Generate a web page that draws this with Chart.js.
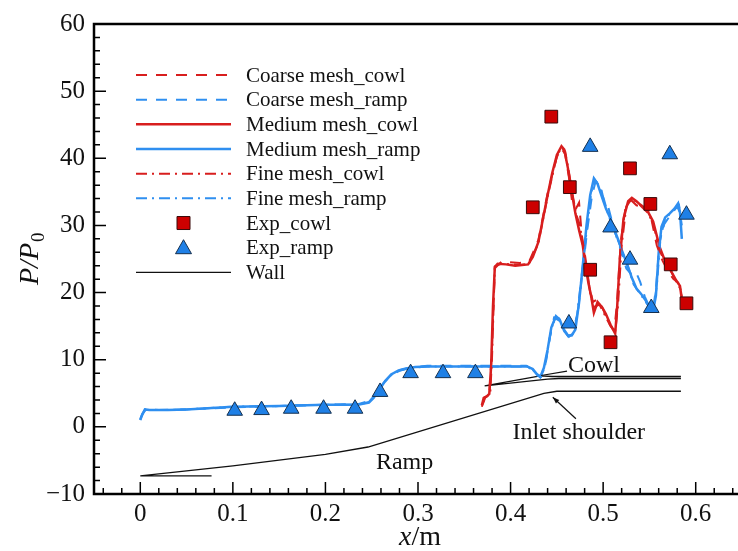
<!DOCTYPE html>
<html>
<head>
<meta charset="utf-8">
<script src="https://cdn.jsdelivr.net/npm/chart.js@4.4.1/dist/chart.umd.min.js"></script>
<style>
  html, body { margin: 0; padding: 0; background: #fff; overflow: hidden; }
  #wrap { width: 752px; height: 551px; }
</style>
</head>
<body>
<div id="wrap"><canvas id="pChart" width="752" height="551"></canvas></div>
<script>
// Axis ticks
const xTicks = [0, 0.1, 0.2, 0.3, 0.4, 0.5, 0.6];
const yTicks = [-10, 0, 10, 20, 30, 40, 50, 60];

// Medium mesh
const mediumCowlX = [0.369, 0.371, 0.374, 0.377, 0.379, 0.381, 0.383, 0.386, 0.395, 0.405, 0.419, 0.424, 0.43, 0.435, 0.44, 0.445, 0.45, 0.455, 0.458, 0.462, 0.466, 0.47, 0.474, 0.478, 0.481, 0.484, 0.487, 0.49, 0.494, 0.499, 0.503, 0.508, 0.513, 0.515, 0.518, 0.522, 0.527, 0.531, 0.536, 0.54, 0.547, 0.554, 0.561, 0.566, 0.57, 0.575, 0.579, 0.583, 0.585];
const mediumCowlY = [3.2, 4.3, 4.5, 4.9, 9.0, 18.0, 23.8, 24.3, 24.2, 24.0, 24.2, 25.3, 27.5, 31.0, 34.5, 37.8, 40.5, 41.8, 41.3, 38.5, 35.0, 31.8, 29.3, 27.0, 24.0, 21.5, 19.5, 17.0, 18.6, 17.8, 16.8, 15.2, 13.9, 17.5, 25.0, 31.0, 33.6, 34.1, 33.6, 33.1, 32.4, 30.6, 26.8, 25.0, 24.0, 22.8, 21.8, 21.0, 19.0];
const mediumRampX = [0, 0.002, 0.005, 0.01, 0.03, 0.05, 0.1, 0.15, 0.2, 0.235, 0.247, 0.252, 0.257, 0.264, 0.271, 0.279, 0.287, 0.297, 0.31, 0.35, 0.39, 0.418, 0.424, 0.428, 0.432, 0.436, 0.44, 0.444, 0.449, 0.453, 0.457, 0.462, 0.466, 0.47, 0.474, 0.478, 0.482, 0.486, 0.49, 0.494, 0.498, 0.503, 0.508, 0.512, 0.517, 0.521, 0.526, 0.531, 0.536, 0.541, 0.546, 0.551, 0.554, 0.557, 0.56, 0.563, 0.567, 0.572, 0.577, 0.581, 0.583, 0.585];
const mediumRampY = [1.0, 1.8, 2.6, 2.5, 2.5, 2.6, 3.0, 3.1, 3.3, 3.3, 3.6, 4.3, 5.3, 6.7, 7.8, 8.4, 8.7, 8.9, 9.0, 9.0, 9.0, 9.0, 8.6, 7.9, 7.4, 8.8, 11.5, 14.8, 16.5, 16.0, 14.6, 13.6, 13.6, 14.5, 18.5, 24.0, 30.0, 34.5, 37.0, 36.2, 34.5, 32.5, 31.0, 29.4, 27.6, 26.0, 24.2, 22.2, 20.6, 19.8, 18.8, 17.6, 17.3, 19.5, 26.0, 29.8, 31.2, 31.8, 32.5, 33.3, 32.0, 28.0];

// Coarse mesh
const coarseCowlX = [0.369, 0.372, 0.377, 0.38, 0.383, 0.39, 0.41, 0.42, 0.43, 0.44, 0.45, 0.455, 0.459, 0.463, 0.467, 0.471, 0.474, 0.477, 0.481, 0.485, 0.489, 0.494, 0.5, 0.506, 0.512, 0.515, 0.519, 0.524, 0.53, 0.536, 0.541, 0.546, 0.552, 0.558, 0.564, 0.57, 0.576, 0.581, 0.585];
const coarseCowlY = [3.0, 4.4, 4.7, 12.0, 23.6, 24.6, 24.4, 24.6, 27.8, 34.8, 40.2, 41.5, 40.6, 37.2, 33.0, 32.6, 33.4, 28.5, 25.0, 21.0, 18.6, 19.0, 17.5, 15.5, 14.3, 18.5, 27.5, 32.5, 33.8, 33.0, 32.8, 33.5, 31.0, 27.0, 24.8, 23.2, 22.0, 21.5, 19.4];
const coarseRampX = [0, 0.003, 0.006, 0.02, 0.05, 0.1, 0.15, 0.2, 0.236, 0.248, 0.256, 0.264, 0.272, 0.282, 0.295, 0.31, 0.36, 0.417, 0.423, 0.428, 0.433, 0.438, 0.443, 0.448, 0.453, 0.458, 0.463, 0.468, 0.473, 0.478, 0.483, 0.488, 0.492, 0.497, 0.501, 0.505, 0.51, 0.515, 0.52, 0.525, 0.53, 0.535, 0.54, 0.545, 0.55, 0.554, 0.557, 0.561, 0.566, 0.571, 0.576, 0.58, 0.584];
const coarseRampY = [1.2, 2.0, 2.6, 2.5, 2.6, 2.9, 3.1, 3.3, 3.4, 3.9, 5.2, 6.8, 7.9, 8.5, 8.9, 9.1, 9.1, 9.1, 8.5, 7.7, 7.5, 9.5, 13.8, 16.2, 15.8, 14.2, 13.4, 13.9, 17.5, 23.5, 29.5, 34.5, 36.6, 36.0, 33.6, 33.0, 30.4, 28.0, 26.0, 23.6, 22.8, 23.2, 21.6, 19.4, 17.9, 17.6, 20.5, 27.5, 30.2, 31.2, 32.1, 32.8, 31.6];

// Fine mesh
const fineCowlX = [0.37, 0.373, 0.378, 0.38, 0.383, 0.39, 0.41, 0.42, 0.43, 0.44, 0.45, 0.455, 0.459, 0.463, 0.467, 0.471, 0.475, 0.479, 0.483, 0.487, 0.491, 0.496, 0.502, 0.508, 0.513, 0.516, 0.52, 0.525, 0.531, 0.537, 0.543, 0.549, 0.555, 0.561, 0.567, 0.573, 0.579, 0.584];
const fineCowlY = [3.4, 4.5, 4.8, 10.5, 23.9, 24.3, 24.1, 24.3, 27.3, 34.3, 40.3, 41.6, 41.0, 38.0, 34.6, 31.6, 30.0, 26.3, 22.6, 19.2, 17.9, 18.2, 16.6, 15.0, 14.1, 18.0, 27.0, 32.8, 34.0, 33.4, 32.6, 31.8, 29.8, 26.2, 24.6, 23.3, 21.6, 20.4];
const fineRampX = [0, 0.002, 0.005, 0.02, 0.05, 0.1, 0.15, 0.2, 0.235, 0.247, 0.255, 0.263, 0.271, 0.281, 0.293, 0.31, 0.36, 0.418, 0.424, 0.429, 0.433, 0.437, 0.442, 0.447, 0.452, 0.457, 0.462, 0.467, 0.472, 0.477, 0.482, 0.487, 0.491, 0.496, 0.501, 0.506, 0.511, 0.516, 0.521, 0.527, 0.533, 0.539, 0.545, 0.55, 0.554, 0.558, 0.562, 0.567, 0.572, 0.577, 0.582, 0.585];
const fineRampY = [1.1, 1.9, 2.5, 2.5, 2.6, 3.0, 3.1, 3.3, 3.3, 3.7, 5.0, 6.6, 7.7, 8.4, 8.8, 9.0, 9.0, 9.0, 8.5, 7.8, 7.5, 8.9, 13.0, 16.3, 16.2, 14.8, 13.5, 13.8, 16.8, 22.8, 29.0, 34.8, 36.8, 35.8, 33.8, 31.4, 29.6, 27.8, 26.0, 23.8, 21.2, 20.0, 18.8, 17.8, 17.4, 21.0, 28.2, 31.0, 31.7, 32.4, 33.0, 30.0];

// Experiment
const expCowlX = [0.424, 0.444, 0.464, 0.486, 0.508, 0.529, 0.551, 0.573, 0.590];
const expCowlY = [32.7, 46.2, 35.7, 23.4, 12.6, 38.5, 33.2, 24.2, 18.4];
const expRampX = [0.102, 0.131, 0.163, 0.198, 0.232, 0.259, 0.292, 0.327, 0.362, 0.463, 0.486, 0.508, 0.529, 0.552, 0.572, 0.590];
const expRampY = [2.4, 2.5, 2.7, 2.7, 2.7, 5.2, 8.0, 8.0, 8.0, 15.4, 41.7, 29.7, 24.9, 17.7, 40.6, 31.6];

// Wall geometry (null = break)
const wallX = [0, 0.077, 0.077, 0, 0.1, 0.2, 0.246, 0.436, 0.45, 0.584, 0.584, 0.372, 0.432, 0.445, 0.584, 0.584, 0.372, 0.44, 0.452, 0.584];
const wallY = [-7.3, -7.3, null, -7.3, -5.8, -4.1, -3.0, 5.0, 5.3, 5.3, null, 6.1, 7.6, 7.5, 7.5, null, 6.1, 7.1, 7.2, 7.2];

const RED = '#d81e1e';
const BLUE = '#2f8ff0';
const SERIF = "'Liberation Serif', 'Times New Roman', serif";

const zip = (xs, ys) => xs.map((x, i) => ({ x: x, y: ys[i] }));

const lineSet = (label, xs, ys, color, width, dash, order) => ({
    label: label,
    data: zip(xs, ys),
    showLine: true,
    borderColor: color,
    backgroundColor: color,
    borderWidth: width,
    borderDash: dash,
    pointRadius: 0,
    tension: 0,
    order: order
});

const datasets = [
    lineSet('Coarse mesh_cowl', coarseCowlX, coarseCowlY, RED, 2, [11, 9], 2),
    lineSet('Coarse mesh_ramp', coarseRampX, coarseRampY, BLUE, 2, [11, 9], 2),
    lineSet('Medium mesh_cowl', mediumCowlX, mediumCowlY, RED, 2.5, [], 3),
    lineSet('Medium mesh_ramp', mediumRampX, mediumRampY, BLUE, 2.5, [], 3),
    lineSet('Fine mesh_cowl', fineCowlX, fineCowlY, RED, 2, [11, 5, 2, 5], 2),
    lineSet('Fine mesh_ramp', fineRampX, fineRampY, BLUE, 2, [11, 5, 2, 5], 2),
    {
        label: 'Exp_cowl', data: zip(expCowlX, expCowlY), showLine: false,
        pointStyle: 'rect', pointRadius: 9, pointHoverRadius: 9,
        backgroundColor: '#cc0000', borderColor: '#3a0a0a', borderWidth: 1, order: 0
    },
    {
        label: 'Exp_ramp', data: zip(expRampX, expRampY), showLine: false,
        pointStyle: 'triangle', pointRadius: 9, pointHoverRadius: 9,
        backgroundColor: '#1f80e6', borderColor: '#15304f', borderWidth: 1, order: 0
    },
    lineSet('Wall', wallX, wallY, '#111', 1.3, [], 5)
];

// Ticks inside the frame, border, legend, labels
const decorPlugin = {
    id: 'decor',
    afterDraw(chart) {
        const ctx = chart.ctx;
        const a = chart.chartArea;
        const xs = chart.scales.x;
        const ys = chart.scales.y;
        ctx.save();

        // frame
        ctx.strokeStyle = '#000';
        ctx.lineWidth = 2.5;
        ctx.strokeRect(a.left, a.top, a.right - a.left, a.bottom - a.top);

        // ticks (inward)
        ctx.lineWidth = 1.5;
        ctx.beginPath();
        for (let i = -2; i <= 32; i++) {
            const px = xs.getPixelForValue(i * 0.02);
            const len = (i % 5 === 0) ? 12 : 6;
            ctx.moveTo(px, a.bottom);
            ctx.lineTo(px, a.bottom - len);
        }
        for (let v = -10; v <= 60; v += 2) {
            const py = ys.getPixelForValue(v);
            const len = (v % 10 === 0) ? 12 : 6;
            ctx.moveTo(a.left, py);
            ctx.lineTo(a.left + len, py);
        }
        ctx.stroke();

        // legend
        const rowY0 = 75, rowDy = 24.67, lx0 = 136, lx1 = 231, tx = 246;
        const cx = (lx0 + lx1) / 2;
        ctx.font = '21px ' + SERIF;
        ctx.textBaseline = 'middle';
        ctx.textAlign = 'left';
        chart.data.datasets.forEach((ds, i) => {
            const y = rowY0 + i * rowDy;
            if (ds.showLine) {
                ctx.strokeStyle = ds.borderColor;
                ctx.lineWidth = ds.borderWidth;
                ctx.setLineDash(ds.borderDash || []);
                ctx.beginPath();
                ctx.moveTo(lx0, y);
                ctx.lineTo(lx1, y);
                ctx.stroke();
                ctx.setLineDash([]);
            } else {
                ctx.fillStyle = ds.backgroundColor;
                ctx.strokeStyle = ds.borderColor;
                ctx.lineWidth = 1;
                ctx.beginPath();
                if (ds.pointStyle === 'rect') {
                    ctx.rect(cx - 6.5, y - 6.5, 13, 13);
                } else {
                    ctx.moveTo(cx, y - 8);
                    ctx.lineTo(cx + 8, y + 6);
                    ctx.lineTo(cx - 8, y + 6);
                    ctx.closePath();
                }
                ctx.fill();
                ctx.stroke();
            }
            ctx.fillStyle = '#111';
            ctx.fillText(ds.label, tx, y + 1);
        });

        // annotations
        ctx.strokeStyle = '#111';
        ctx.lineWidth = 1.2;
        ctx.beginPath();
        ctx.moveTo(xs.getPixelForValue(0.433), ys.getPixelForValue(7.65));
        ctx.lineTo(xs.getPixelForValue(0.461), ys.getPixelForValue(8.3));
        ctx.stroke();

        const ax0 = xs.getPixelForValue(0.4706), ay0 = ys.getPixelForValue(1.2);
        const ax1 = xs.getPixelForValue(0.4456), ay1 = ys.getPixelForValue(4.4);
        ctx.beginPath();
        ctx.moveTo(ax0, ay0);
        ctx.lineTo(ax1, ay1);
        ctx.stroke();
        const ang = Math.atan2(ay1 - ay0, ax1 - ax0);
        ctx.fillStyle = '#111';
        ctx.beginPath();
        ctx.moveTo(ax1, ay1);
        ctx.lineTo(ax1 - 7 * Math.cos(ang - 0.35), ay1 - 7 * Math.sin(ang - 0.35));
        ctx.lineTo(ax1 - 7 * Math.cos(ang + 0.35), ay1 - 7 * Math.sin(ang + 0.35));
        ctx.closePath();
        ctx.fill();

        ctx.font = '24px ' + SERIF;
        ctx.textBaseline = 'middle';
        ctx.fillText('Cowl', xs.getPixelForValue(0.462), ys.getPixelForValue(9.1));
        ctx.fillText('Inlet shoulder', xs.getPixelForValue(0.402), ys.getPixelForValue(-0.9));
        ctx.fillText('Ramp', xs.getPixelForValue(0.2545), ys.getPixelForValue(-5.3));

        // x title
        ctx.textBaseline = 'alphabetic';
        ctx.font = 'italic 28px ' + SERIF;
        const wx = ctx.measureText('x').width;
        ctx.font = '28px ' + SERIF;
        const wm = ctx.measureText('/m').width;
        const sx = 420 - (wx + wm) / 2;
        ctx.font = 'italic 28px ' + SERIF;
        ctx.fillText('x', sx, 545);
        ctx.font = '28px ' + SERIF;
        ctx.fillText('/m', sx + wx, 545);

        // y title
        ctx.translate(38, 248);
        ctx.rotate(-Math.PI / 2);
        ctx.font = 'italic 28px ' + SERIF;
        const wp = ctx.measureText('P/P').width;
        ctx.fillText('P/P', -37, 0);
        ctx.font = '19px ' + SERIF;
        ctx.fillText('0', -37 + wp + 1, 6);

        ctx.restore();
    }
};

new Chart(document.getElementById('pChart'), {
    type: 'scatter',
    data: { datasets: datasets },
    options: {
        responsive: false,
        animation: false,
        events: [],
        layout: { padding: { left: 0, top: 22, right: 3.5, bottom: 0 } },
        plugins: {
            legend: { display: false },
            tooltip: { enabled: false }
        },
        scales: {
            x: {
                type: 'linear',
                min: -0.05,
                max: 0.65,
                afterBuildTicks: (scale) => { scale.ticks = xTicks.map(v => ({ value: v })); },
                afterFit: (scale) => { scale.height = 57; },
                grid: { display: false, drawTicks: false },
                border: { display: false },
                ticks: {
                    color: '#111',
                    padding: 5,
                    maxRotation: 0,
                    autoSkip: false,
                    font: { family: SERIF, size: 25 },
                    callback: (v) => String(v)
                }
            },
            y: {
                type: 'linear',
                min: -10,
                max: 60,
                afterBuildTicks: (scale) => { scale.ticks = yTicks.map(v => ({ value: v })); },
                afterFit: (scale) => { scale.width = 94; },
                grid: { display: false, drawTicks: false },
                border: { display: false },
                ticks: {
                    color: '#111',
                    padding: 9,
                    autoSkip: false,
                    font: { family: SERIF, size: 25 },
                    callback: (v) => String(v).replace('-', '\u2212')
                }
            }
        }
    },
    plugins: [decorPlugin]
});
</script>
</body>
</html>
